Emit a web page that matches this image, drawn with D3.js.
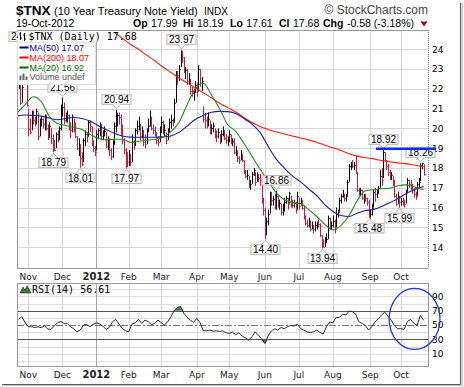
<!DOCTYPE html>
<html>
<head>
<meta charset="utf-8">
<script src="https://cdn.jsdelivr.net/npm/d3@7"></script>
<style>
body{margin:0;background:#fff;}
</style>
</head>
<body>
<svg id="chart" width="464" height="387"></svg>
<script>
// trading days from 24-Oct-2011 to 19-Oct-2012
let holidays = ["2011-11-24","2011-12-26","2012-01-02","2012-01-16","2012-02-20","2012-04-06","2012-05-28","2012-07-04","2012-09-03"];

let highs = [22.6,22.4,22.3,24.12,24.0,23.2,21.0,20.5,20.9,20.9,
  20.6,21.0,20.8,20.5,20.6,20.5,20.7,20.7,20.2,20.3,
  20.0,19.7,19.4,19.8,19.9,20.1,21.2,21.56,21.3,20.8,
  20.9,20.7,20.3,20.7,20.5,20.3,19.6,19.5,19.2,18.8,
  19.5,19.9,19.8,20.4,20.4,20.1,19.4,19.1,19.9,20.0,
  20.3,20.2,19.9,20.1,19.8,19.6,19.5,19.0,19.4,20.3,
  20.94,20.8,20.8,20.7,20.2,19.5,19.0,18.8,18.9,18.7,
  19.7,19.4,20.0,20.4,20.6,20.2,20.1,19.9,19.7,20.0,
  20.5,20.9,20.6,20.2,20.1,19.8,19.6,20.1,20.6,20.4,
  20.2,19.8,20.0,20.5,20.7,20.5,21.5,22.9,22.9,23.2,
  23.97,23.9,23.6,23.1,23.0,22.8,22.5,22.1,22.0,22.4,
  22.3,23.2,23.0,22.6,21.1,20.8,20.6,20.8,20.4,20.2,
  20.3,20.0,19.9,20.0,19.7,19.9,20.1,19.9,19.7,19.6,
  19.9,19.7,19.5,19.5,19.1,18.9,18.6,18.9,18.7,18.4,
  17.9,17.9,17.6,17.4,17.8,18.0,17.8,17.8,17.7,17.7,
  17.2,16.5,16.0,15.5,15.9,16.8,16.8,16.6,16.7,16.86,
  16.6,16.4,16.2,16.2,16.5,16.6,16.5,16.8,16.6,16.4,
  16.4,16.3,16.8,16.5,16.5,16.4,16.1,15.6,15.4,15.5,
  15.3,15.3,15.1,15.3,15.3,15.4,15.2,14.6,14.4,14.5,
  14.7,15.6,15.5,15.3,15.6,15.4,16.0,15.9,16.5,16.7,
  16.9,16.7,16.7,17.4,18.2,18.3,18.4,18.3,18.6,17.8,
  17.0,17.0,16.9,16.7,16.7,16.5,16.4,15.9,16.2,16.9,
  17.0,16.9,17.1,17.9,18.0,18.92,18.8,18.4,18.2,17.9,
  17.8,17.6,17.4,16.7,16.8,16.6,16.5,16.5,16.4,16.9,
  17.5,17.4,17.4,17.2,17.0,16.8,17.3,17.5,18.26,18.26,
  18.19];

let lows = [22.0,21.2,21.3,22.2,22.9,21.1,19.6,19.7,19.9,20.2,
  20.1,20.2,19.4,19.6,20.1,20.0,19.9,19.9,19.4,19.5,
  19.2,18.79,18.85,19.0,19.3,19.4,19.9,20.6,20.2,20.3,
  20.3,19.9,19.5,19.8,19.8,19.5,18.9,18.6,18.01,18.1,
  18.3,19.1,19.3,19.6,19.8,19.1,18.8,18.6,18.9,19.5,
  19.6,19.4,19.4,19.6,19.0,18.9,18.6,18.4,18.5,19.2,
  19.8,20.1,20.2,19.6,19.2,18.7,17.97,18.05,18.1,18.1,
  18.3,18.9,19.1,19.7,19.9,19.4,19.5,19.1,19.0,19.2,
  19.8,20.1,19.9,19.7,19.6,19.2,19.1,19.3,19.8,19.7,
  19.6,19.2,19.4,19.8,20.0,20.1,20.3,21.3,22.2,22.4,
  23.1,23.3,22.8,22.5,22.2,22.2,21.7,21.6,21.4,21.8,
  21.6,21.9,22.1,21.9,20.3,20.0,20.0,20.1,19.7,19.7,
  19.8,19.5,19.3,19.5,19.2,19.3,19.6,19.4,19.2,19.1,
  19.3,19.2,19.1,18.7,18.6,18.3,18.2,18.4,18.3,17.7,
  17.5,17.4,17.0,16.9,17.2,17.6,17.1,17.3,17.3,17.1,
  16.2,15.6,14.40,14.6,15.1,15.7,16.1,16.1,15.9,15.9,
  16.0,15.9,15.6,15.6,15.8,16.2,15.9,16.2,16.0,16.0,
  16.0,15.7,15.9,15.9,16.1,15.9,15.4,15.1,15.0,15.0,
  14.8,14.9,14.7,14.8,14.9,15.0,14.5,13.94,13.98,14.0,
  14.2,14.4,14.9,14.9,15.0,14.7,15.0,15.5,15.8,16.2,
  16.5,16.3,16.3,16.6,17.3,17.9,18.0,17.9,17.7,16.8,
  16.6,16.6,16.4,16.2,16.3,16.1,15.48,15.5,15.6,16.0,
  16.3,16.5,16.7,17.0,17.1,17.5,18.3,17.9,17.6,17.4,
  17.4,17.1,16.5,16.1,16.2,15.99,16.1,16.1,16.0,16.2,
  16.8,17.0,16.9,16.7,16.5,16.4,16.6,17.0,17.35,17.95,
  17.61];

let closes = [22.3,21.3,22.1,23.9,23.2,21.2,19.95,19.8,20.8,20.4,
  20.3,20.9,19.6,20.3,20.5,20.2,20.6,20.0,19.6,20.1,
  19.5,19.0,18.9,19.7,19.6,20.0,20.8,21.1,20.4,20.45,
  20.7,20.2,19.9,20.6,20.1,19.6,19.0,19.1,18.5,18.2,
  19.4,19.7,19.6,20.3,20.1,19.2,19.0,18.8,19.7,19.9,
  20.2,19.6,19.8,19.85,19.1,19.4,18.9,18.6,19.2,20.1,
  20.5,20.7,20.6,19.9,19.4,18.9,18.4,18.3,18.6,18.3,
  19.3,19.2,19.9,20.1,20.2,19.6,19.9,19.3,19.2,19.9,
  20.1,20.6,20.0,19.9,19.8,19.4,19.3,19.8,20.3,19.8,
  19.9,19.4,19.8,20.3,20.4,20.3,21.3,22.8,22.7,23.0,
  23.8,23.6,22.9,22.95,22.4,22.5,21.9,21.8,21.85,22.2,
  21.9,23.0,22.3,22.4,20.5,20.4,20.3,20.5,19.8,20.0,
  20.1,19.7,19.6,19.8,19.3,19.7,19.9,19.5,19.4,19.5,
  19.7,19.3,19.35,18.8,18.85,18.5,18.4,18.6,18.4,17.8,
  17.6,17.65,17.1,17.2,17.7,17.9,17.3,17.7,17.5,17.4,
  16.3,15.9,14.7,15.3,15.7,16.6,16.4,16.45,16.0,16.6,
  16.2,16.25,15.8,15.9,16.3,16.5,16.2,16.75,16.2,16.15,
  16.25,15.9,16.6,16.1,16.4,16.0,15.5,15.2,15.1,15.3,
  14.9,15.1,14.9,15.1,15.2,15.15,14.6,14.2,14.0,14.3,
  14.4,15.5,15.1,15.1,15.3,14.9,15.7,15.8,16.4,16.6,
  16.7,16.5,16.6,17.3,18.1,18.2,18.1,18.15,17.7,16.9,
  16.8,16.9,16.5,16.6,16.5,16.3,15.5,15.7,16.0,16.8,
  16.7,16.8,17.0,17.6,17.4,18.8,18.4,18.1,17.8,17.6,
  17.65,17.2,16.6,16.2,16.6,16.3,16.35,16.3,16.2,16.8,
  17.4,17.2,17.1,16.9,16.7,16.6,17.2,17.3,18.15,18.26,
  17.68];

// moving averages, one value every 5 sessions
let ma50 = [20.63,20.68,20.66,20.62,20.52,20.44,20.5,20.55,20.5,20.37,
  20.15,19.95,19.76,19.62,19.56,19.55,19.55,19.55,19.57,19.62,
  19.8,20.12,20.45,20.65,20.82,20.86,20.85,20.75,20.5,20.22,
  19.8,19.1,18.45,18.0,17.6,17.3,16.95,16.6,16.15,15.8,
  15.6,15.55,15.72,15.85,15.9,16.05,16.25,16.45,16.7,16.9,
  17.04,17.07];
let ma200 = [null,null,null,null,null,null,null,null,null,null,
  null,null,24.85,24.55,24.25,24.0,23.7,23.42,23.1,22.82,
  22.55,22.3,22.05,21.8,21.55,21.27,21.05,20.83,20.55,20.3,
  20.1,19.95,19.82,19.72,19.62,19.52,19.42,19.3,19.15,19.02,
  18.88,18.72,18.6,18.52,18.46,18.38,18.32,18.26,18.22,18.15,
  18.08,18.07];
let ma20 = [20.77,21.2,21.6,21.35,20.6,20.25,20.15,20.05,19.95,19.7,
  19.5,19.42,19.45,19.45,19.3,19.35,19.4,19.45,19.55,19.84,
  20.3,21.2,22.0,22.28,21.7,21.0,20.2,19.85,19.25,18.6,
  17.95,17.35,16.75,16.4,16.25,16.2,15.9,15.55,15.15,14.87,
  15.1,15.6,16.35,16.85,16.9,16.95,16.98,17.1,17.15,17.05,
  16.93,16.92];

// RSI(14), every 2nd session
let rsi = [57.9,61.6,53.3,47.7,47.7,46.7,47.7,46.3,49,44.4,
  44,48.6,53.3,55.1,52.3,52.3,47.7,44.9,40.7,43,
  50,50.9,47.7,50.9,53.3,51.4,48.6,44,46.7,54.7,
  57.9,51.4,45.3,42,40.7,51.4,53.3,57.9,52.3,57,
  54.7,50.5,52.3,57,53.3,50,54.7,61.6,70,74.7,
  75.6,66.3,60.7,57,53.7,59.3,53.3,42,42,43,
  41.6,42,41.2,42,39.3,38.4,40.2,36.5,39.3,34.7,
  32.3,29.1,33.7,40.7,36,30.9,24.4,34.7,42,44.9,
  43,46.7,44.9,47.7,49.5,48.6,51.4,45.3,43,40.7,
  39.3,40.7,43,39.8,37.4,47.7,54.2,53.3,60.7,60.7,
  65.3,64,69.5,68.6,65.3,54.7,52.3,49.5,43,47.7,
  54.2,58.4,64,68.1,62.6,57,49,44.9,44.9,44,
  55.1,57.9,52.3,49.5,63.5,56.61];

let priceTicks = [14,15,16,17,18,19,20,21,22,23,24];
let rsiTicks = [10,30,50,70,90];
let rsiGrid = [0,10,20,40,60,80,90,100];
let rsiBands = [30,50,70];
let monthNames = ["Jan","Feb","Mar","Apr","May","Jun","Jul","Aug","Sep","Oct","Nov","Dec"];

// swing labels: session index and which end of the bar
let swingDays  = [3,21,27,38,60,66,100,152,159,187,216,225,235,248];
let swingKinds = ["high","low","high","low","high","low","high","low","high","low","low","high","low","high"];

// hand drawn notes on the chart
let noteLevel = 18.97, noteFrom = 220.6;
let ringDay = 244.4, ringRsi = 58.6, ringDays = 15.7, ringSpan = 42.5;

let sans = "'Liberation Sans', Arial, sans-serif";
let verd = "'DejaVu Sans', Verdana, sans-serif";
let mono = "'DejaVu Sans Mono', monospace";

let plotLeft = 17, plotRight = 428, plotTop = 30, plotBottom = 268;
let rsiTop = 283, rsiBottom = 366;

let fmt = d3.timeFormat("%Y-%m-%d");
let days = d3.timeDay.range(new Date(2011, 9, 24), new Date(2012, 9, 20))
    .filter(d => d.getDay() > 0 && d.getDay() < 6 && holidays.indexOf(fmt(d)) < 0);

let monthStarts = [];
days.forEach((d, i) => {
    if (i > 0 && d.getMonth() !== days[i-1].getMonth()) monthStarts.push(i);
});

let x = d3.scaleLinear().domain([-1, 252.7]).range([plotLeft, plotRight]);
let y = d3.scaleLinear().domain([12.95, 24.97]).range([plotBottom, plotTop]);
let ry = d3.scaleLinear().domain([-7, 108.6]).range([rsiBottom, rsiTop]);
let maDays = d3.range(-1, 250, 5).concat([250]);
let rsiDays = d3.range(0, 251, 2);

let svg = d3.select("#chart");

// frame with shadow
svg.append("rect").attr("x", 3).attr("y", 4).attr("width", 460).attr("height", 382).attr("fill", "#c8c8c8");
svg.append("rect").attr("x", 2).attr("y", 3).attr("width", 460).attr("height", 382).attr("fill", "#e0e0e0");
svg.append("rect").attr("x", 0).attr("y", 0).attr("width", 460.5).attr("height", 384.5).attr("fill", "#fff");
svg.append("path").attr("d", "M460.5,3V384.5H2").attr("fill", "none").attr("stroke", "#555");

// header
svg.append("text").attr("x", 16).attr("y", 15).style("font", "bold 13.5px " + sans).text("$TNX");
svg.append("text").attr("x", 54).attr("y", 15).style("font", "11px " + sans).text("(10 Year Treasury Note Yield)");
svg.append("text").attr("x", 204).attr("y", 15).style("font", "10px " + sans).text("INDX");
svg.append("text").attr("x", 428).attr("y", 14).attr("text-anchor", "end").attr("fill", "#444")
    .style("font", "12px " + sans).text("\u00a9 StockCharts.com");
svg.append("text").attr("x", 16).attr("y", 26.5).style("font", "10.5px " + sans).text("19-Oct-2012");

// quote line: bold label followed by its value
let quoteLabels = ["Op", "Hi", "Lo", "Cl", "Chg"];
let quoteValues = ["17.99", "18.19", "17.61", "17.68", "-0.58 (-3.18%)"];
let quoteAt = [133, 183, 230, 279, 323];
quoteLabels.forEach((lab, i) => {
    let t = svg.append("text").attr("x", quoteAt[i]).attr("y", 26.5)
        .style("font", "bold 10.5px " + sans).text(lab);
    let w = t.node().getComputedTextLength();
    svg.append("text").attr("x", quoteAt[i] + w + 3.5).attr("y", 26.5)
        .style("font", "10.5px " + sans).text(quoteValues[i]);
});
svg.append("path").attr("d", "M420.5,21.5L427.5,21.5L424,26.5Z").attr("fill", "#a0002a");

// panels
function panelGrid(top, bottom) {
    let g = svg.append("g");
    g.selectAll("line").data(monthStarts).enter().append("line")
        .attr("x1", d => Math.round(x(d)) + 0.5).attr("x2", d => Math.round(x(d)) + 0.5)
        .attr("y1", top).attr("y2", bottom)
        .attr("stroke", d => days[d].getMonth() === 0 ? "#a8a8a8" : "#d6d6d6");
    return g;
}

svg.append("rect").attr("x", plotLeft).attr("y", plotTop).attr("width", plotRight - plotLeft)
    .attr("height", plotBottom - plotTop).attr("fill", "#fff");
svg.append("g").selectAll("line").data(priceTicks).enter().append("line")
    .attr("x1", plotLeft).attr("x2", plotRight)
    .attr("y1", d => Math.round(y(d)) + 0.5).attr("y2", d => Math.round(y(d)) + 0.5)
    .attr("stroke", "#d6d6d6");
panelGrid(plotTop, plotBottom);

svg.append("defs").append("clipPath").attr("id", "clipMain")
    .append("rect").attr("x", plotLeft).attr("y", plotTop)
    .attr("width", plotRight - plotLeft).attr("height", plotBottom - plotTop);

let main = svg.append("g").attr("clip-path", "url(#clipMain)");

// price bars: high-low line with a small close tick
let barColor = i => (i > 0 && closes[i] < closes[i-1]) ? "#dc143c" : "#000";
let bars = main.append("g").selectAll("g").data(days).enter().append("g");
bars.append("line")
    .attr("x1", (d, i) => Math.round(x(i)) + 0.5).attr("x2", (d, i) => Math.round(x(i)) + 0.5)
    .attr("y1", (d, i) => y(highs[i])).attr("y2", (d, i) => y(lows[i]))
    .attr("stroke", (d, i) => barColor(i));
bars.append("line")
    .attr("x1", (d, i) => Math.round(x(i)) + 1).attr("x2", (d, i) => Math.round(x(i)) + 2)
    .attr("y1", (d, i) => Math.round(y(closes[i])) + 0.5).attr("y2", (d, i) => Math.round(y(closes[i])) + 0.5)
    .attr("stroke", (d, i) => barColor(i)).attr("stroke-opacity", 0.7);

// moving averages
function maLine(values, color) {
    let line = d3.line()
        .defined(d => d != null)
        .x((d, i) => x(maDays[i]))
        .y(d => y(d))
        .curve(d3.curveMonotoneX);
    main.append("path").attr("d", line(values)).attr("fill", "none")
        .attr("stroke", color).attr("stroke-width", 1.1);
}
maLine(ma200, "#ff1a1a");
maLine(ma50, "#1c1ca0");
maLine(ma20, "#1f8a1f");

// panel border and right axis
svg.append("path").attr("d", "M" + (plotLeft + 0.5) + "," + plotBottom + "V" + (plotTop + 0.5) + "H" + plotRight)
    .attr("fill", "none").attr("stroke", "#999");
svg.append("line").attr("x1", plotLeft).attr("x2", plotRight + 0.5)
    .attr("y1", plotBottom + 0.5).attr("y2", plotBottom + 0.5).attr("stroke", "#999");
svg.append("line").attr("x1", plotRight + 0.5).attr("x2", plotRight + 0.5)
    .attr("y1", plotTop).attr("y2", plotBottom).attr("stroke", "#888").attr("stroke-dasharray", "1,1");

let yAxis = svg.append("g").attr("transform", "translate(" + plotRight + ",0)")
    .call(d3.axisRight(y).tickValues(priceTicks).tickSize(0).tickPadding(4).tickFormat(d3.format("d")));
yAxis.select(".domain").remove();
yAxis.selectAll("text").style("font", "9px " + verd).attr("fill", "#000");

// swing labels
function swingLabel(day, kind) {
    let value = kind === "high" ? highs[day] : lows[day];
    let cx = Math.round(x(day)) + 0.5;
    let tip = kind === "high" ? y(value) - 1 : y(value) + 1;
    let edge = kind === "high" ? tip - 4.5 : tip + 4.5;
    let boxH = 9.5;
    let g = svg.append("g");
    let t = g.append("text").attr("x", cx).attr("text-anchor", "middle")
        .style("font", "10px " + sans).text(value.toFixed(2));
    let w = t.node().getComputedTextLength() + 4;
    let top = kind === "high" ? edge - boxH : edge;
    g.insert("rect", "text").attr("x", cx - w / 2).attr("y", top).attr("width", w).attr("height", boxH)
        .attr("fill", "#fff").attr("stroke", "#b4b4b4");
    g.insert("path", "text").attr("d", "M" + (cx - 4) + "," + edge + "L" + cx + "," + tip + "L" + (cx + 4) + "," + edge)
        .attr("fill", "#fff").attr("stroke", "#b4b4b4");
    t.attr("y", top + 8.3);
}
swingDays.forEach((d, i) => swingLabel(d, swingKinds[i]));

// blue resistance line
svg.append("line").attr("x1", x(noteFrom)).attr("x2", plotRight + 8)
    .attr("y1", y(noteLevel)).attr("y2", y(noteLevel))
    .attr("stroke", "#0a2cff").attr("stroke-width", 2.5);

// legend
svg.append("rect").attr("x", plotLeft + 1).attr("y", plotTop + 1).attr("width", 92).attr("height", 11).attr("fill", "#fff");
svg.append("rect").attr("x", plotLeft + 0.5).attr("y", 42.5).attr("width", 78).attr("height", 42)
    .attr("fill", "#fff").attr("stroke", "#e2e2e2");
svg.append("path").attr("d", "M20.5,32V40M19,34H20.5M20.5,38H22M24.5,33V41M23,35H24.5M24.5,39H26")
    .attr("fill", "none").attr("stroke", "#000");
svg.append("text").attr("x", 28.5).attr("y", 40).style("font", "10px " + mono).text("$TNX (Daily) 17.68");

let legendRows = [["MA(50) 17.07", "#00008b", 50.5], ["MA(200) 18.07", "#ff0000", 60.5], ["MA(20) 16.92", "#006400", 70.5]];
legendRows.forEach(r => {
    svg.append("line").attr("x1", 19.5).attr("x2", 28.5).attr("y1", r[2] - 3).attr("y2", r[2] - 3)
        .attr("stroke", r[1]).attr("stroke-width", 2);
    svg.append("text").attr("x", 29.5).attr("y", r[2]).attr("fill", r[1]).style("font", "9px " + sans).text(r[0]);
});
svg.append("path").attr("d", "M19.5,80V75.5H21.5V80ZM22.5,80V73.5H24.5V80ZM25.5,80V76.5H27.5V80Z").attr("fill", "#666");
svg.append("text").attr("x", 29.5).attr("y", 80).attr("fill", "#555").style("font", "9px " + sans).text("Volume undef");

// x axis labels between the panels and under the RSI
function monthLabels(baseline) {
    svg.append("g").selectAll("text").data(monthStarts).enter().append("text")
        .attr("x", d => x(d)).attr("y", baseline).attr("text-anchor", "middle")
        .attr("fill", "#222")
        .style("font", d => (days[d].getMonth() === 0 ? "bold 10px " : "9px ") + verd)
        .text(d => days[d].getMonth() === 0 ? String(days[d].getFullYear()) : monthNames[days[d].getMonth()]);
}
monthLabels(280);

// RSI panel
svg.append("rect").attr("x", plotLeft).attr("y", rsiTop).attr("width", plotRight - plotLeft)
    .attr("height", rsiBottom - rsiTop).attr("fill", "#fff");
svg.append("g").selectAll("line").data(rsiGrid).enter().append("line")
    .attr("x1", plotLeft).attr("x2", plotRight)
    .attr("y1", d => Math.round(ry(d)) + 0.5).attr("y2", d => Math.round(ry(d)) + 0.5)
    .attr("stroke", "#e0e0e0");
panelGrid(rsiTop, rsiBottom);
svg.append("g").selectAll("line").data(rsiBands).enter().append("line")
    .attr("x1", plotLeft).attr("x2", plotRight)
    .attr("y1", d => Math.round(ry(d)) + 0.5).attr("y2", d => Math.round(ry(d)) + 0.5)
    .attr("stroke", d => d === 50 ? "#777" : "#555")
    .attr("stroke-dasharray", d => d === 50 ? "7,2,2,2" : null);

let over = d3.area().x((d, i) => x(rsiDays[i])).y0(ry(70)).y1(d => ry(Math.max(d, 70)));
let under = d3.area().x((d, i) => x(rsiDays[i])).y0(ry(30)).y1(d => ry(Math.min(d, 30)));
svg.append("path").attr("d", over(rsi)).attr("fill", "#4d7a4d");
svg.append("path").attr("d", under(rsi)).attr("fill", "#4d7a4d");
svg.append("path").attr("d", d3.line().x((d, i) => x(rsiDays[i])).y(d => ry(d))(rsi))
    .attr("fill", "none").attr("stroke", "#2a2a2a").attr("stroke-width", 1);

svg.append("rect").attr("x", plotLeft + 0.5).attr("y", rsiTop + 0.5).attr("width", plotRight - plotLeft)
    .attr("height", rsiBottom - rsiTop).attr("fill", "none").attr("stroke", "#999");

let rAxis = svg.append("g").attr("transform", "translate(" + plotRight + ",0)")
    .call(d3.axisRight(ry).tickValues(rsiTicks).tickSize(0).tickPadding(4));
rAxis.select(".domain").remove();
rAxis.selectAll("text").style("font", "9px " + verd).attr("fill", "#000");

svg.append("path").attr("d", "M20,293L23,287L25,290L27,286L31,293Z").attr("fill", "#3f7a3f").attr("stroke", "#222").attr("stroke-width", 0.6);
svg.append("text").attr("x", 32).attr("y", 292.5).style("font", "10px " + mono).text("RSI(14) 56.61");

monthLabels(377.5);

// blue ring drawn over the latest RSI
svg.append("ellipse")
    .attr("cx", x(ringDay)).attr("cy", ry(ringRsi))
    .attr("rx", x(ringDay + ringDays) - x(ringDay))
    .attr("ry", ry(ringRsi - ringSpan) - ry(ringRsi))
    .attr("fill", "none").attr("stroke", "#2237e6").attr("stroke-width", 1.3);
</script>
</body>
</html>
